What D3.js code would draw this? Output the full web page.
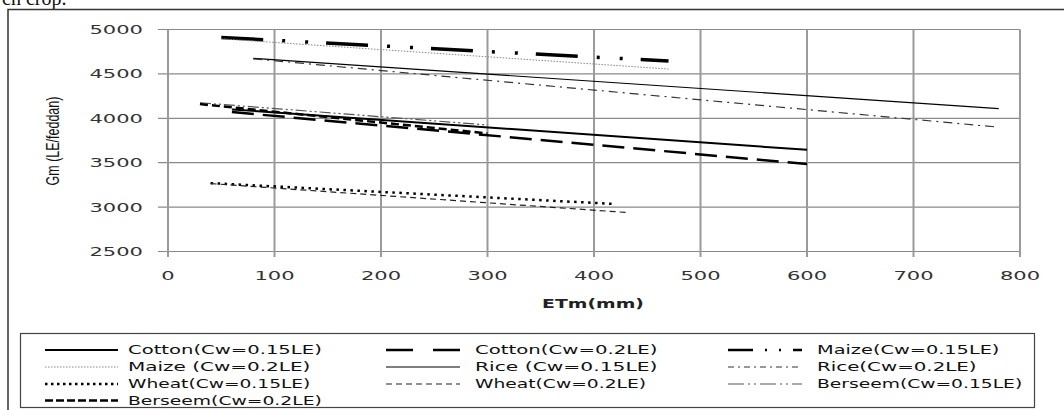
<!DOCTYPE html>
<html>
<head>
<meta charset="utf-8">
<style>
  body { margin: 0; background: #fff; }
  svg { display: block; }
</style>
</head>
<body>
<script src="https://cdn.jsdelivr.net/npm/d3@7"></script>
<script>
// ETm (mm) and Gm (LE/feddan), start and end of each line
var etmCotton15 = [60, 600],   gmCotton15 = [4100, 3645];
var etmCotton20 = [60, 600],   gmCotton20 = [4070, 3485];
var etmMaize15 = [50, 470],    gmMaize15 = [4910, 4645];
var etmMaize20 = [50, 470],    gmMaize20 = [4895, 4555];
var etmRice15 = [80, 780],     gmRice15 = [4675, 4110];
var etmRice20 = [80, 780],     gmRice20 = [4670, 3900];
var etmWheat15 = [40, 420],    gmWheat15 = [3270, 3035];
var etmWheat20 = [40, 430],    gmWheat20 = [3265, 2940];
var etmBerseem15 = [30, 300],  gmBerseem15 = [4175, 3925];
var etmBerseem20 = [30, 300],  gmBerseem20 = [4160, 3830];

var names = ["Cotton(Cw=0.15LE)", "Cotton(Cw=0.2LE)", "Maize(Cw=0.15LE)",
             "Maize (Cw=0.2LE)", "Rice (Cw=0.15LE)", "Rice(Cw=0.2LE)",
             "Wheat(Cw=0.15LE)", "Wheat(Cw=0.2LE)", "Berseem(Cw=0.15LE)",
             "Berseem(Cw=0.2LE)"];
var xTicks = [0, 100, 200, 300, 400, 500, 600, 700, 800];
var yTicks = [2500, 3000, 3500, 4000, 4500, 5000];

var etms = [etmCotton15, etmCotton20, etmMaize15, etmMaize20, etmRice15,
            etmRice20, etmWheat15, etmWheat20, etmBerseem15, etmBerseem20];
var gms = [gmCotton15, gmCotton20, gmMaize15, gmMaize20, gmRice15,
           gmRice20, gmWheat15, gmWheat20, gmBerseem15, gmBerseem20];

// line looks, same order as names
var styles = [
  { color: "#000", width: 2,   dash: null,                 legDash: null },
  { color: "#000", width: 2.5, dash: "22,9",               legDash: "27,20" },
  { color: "#000", width: 3.5, dash: "42,19,3,20,3,18",    legDash: "25,12,2,12,2,12" },
  { color: "#888", width: 1,   dash: "1.5,1.5",            legDash: "1.5,1.5" },
  { color: "#000", width: 1.2, dash: null,                 legDash: null },
  { color: "#333", width: 1.2, dash: "9,5,2,5",            legDash: "6,4,2,4" },
  { color: "#000", width: 2.5, dash: "2.5,4.5",            legDash: "2.5,3.5" },
  { color: "#222", width: 1.2, dash: "6,4",                legDash: "6,4" },
  { color: "#555", width: 1.2, dash: "11,3,2,3,2,3",       legDash: "16,4,2,4,2,4" },
  { color: "#000", width: 2.5, dash: "8,4",                legDash: "8,3" }
];

var W = 1064, H = 410;
var svg = d3.select("body").append("svg").attr("width", W).attr("height", H);

var x = d3.scaleLinear().domain([0, 800]).range([168, 1020]);
var y = d3.scaleLinear().domain([2500, 5000]).range([251.5, 29.5]);

function stretched(parent, px, py, txt, sx) {
  return parent.append("text")
    .attr("transform", "translate(" + px + "," + py + ") scale(" + sx + ",1)")
    .text(txt);
}

// bit of the page text above the chart
svg.append("text").attr("x", 2).attr("y", 5)
  .style("font", "20px 'Liberation Serif'").attr("fill", "#111").text("ch crop.");

// chart frame
svg.append("rect").attr("x", 8).attr("y", 9.5).attr("width", 1070).attr("height", 420)
  .attr("fill", "none").attr("stroke", "#333").attr("stroke-width", 1.5);

// grid
svg.append("g").selectAll("line").data(yTicks).enter().append("line")
  .attr("x1", 158).attr("x2", x(800))
  .attr("y1", function (d) { return y(d); }).attr("y2", function (d) { return y(d); })
  .attr("stroke", "#8a8a8a").attr("stroke-width", 1.2);
svg.append("g").selectAll("line").data(xTicks).enter().append("line")
  .attr("x1", function (d) { return x(d); }).attr("x2", function (d) { return x(d); })
  .attr("y1", y(5000)).attr("y2", 257)
  .attr("stroke", "#9a9a9a").attr("stroke-width", 2);

// axes labels
var sx = 1.62;
var yl = svg.append("g").style("font", "13px 'DejaVu Sans'").attr("fill", "#333")
  .attr("text-anchor", "end");
yTicks.forEach(function (t) { stretched(yl, 143, y(t) + 4.5, t, sx); });
var xl = svg.append("g").style("font", "13px 'DejaVu Sans'").attr("fill", "#333")
  .attr("text-anchor", "middle");
xTicks.forEach(function (t) { stretched(xl, x(t), 280, t, sx); });

stretched(svg, 593, 308, "ETm(mm)", 1.45)
  .attr("text-anchor", "middle").attr("fill", "#222")
  .style("font", "bold 13px 'DejaVu Sans'");

svg.append("text")
  .attr("transform", "translate(53,141) rotate(-90) scale(1,1.45)")
  .attr("text-anchor", "middle").attr("dy", "0.35em")
  .style("font", "12.5px 'Liberation Sans'").attr("fill", "#111")
  .text("Gm (LE/feddan)");

// series
var line = d3.line().x(function (d) { return x(d[0]); }).y(function (d) { return y(d[1]); });
var series = names.map(function (n, i) {
  return { name: n, pts: d3.zip(etms[i], gms[i]), st: styles[i] };
});
svg.append("g").selectAll("path").data(series).enter().append("path")
  .attr("d", function (d) { return line(d.pts); })
  .attr("fill", "none")
  .attr("stroke", function (d) { return d.st.color; })
  .attr("stroke-width", function (d) { return d.st.width; })
  .attr("stroke-dasharray", function (d) { return d.st.dash; });

// legend
svg.append("rect").attr("x", 20.5).attr("y", 333.5).attr("width", 1014).attr("height", 74)
  .attr("fill", "#fff").attr("stroke", "#444").attr("stroke-width", 1.2);
var cols = [{ a: 45, b: 118, t: 128 }, { a: 386, b: 460, t: 475 }, { a: 728, b: 802, t: 817 }];
var rows = [350, 367, 384, 400.5];
var lg = svg.append("g").style("font", "12px 'DejaVu Sans'").attr("fill", "#111");
series.forEach(function (s, i) {
  var c = cols[i % 3], r = rows[Math.floor(i / 3)];
  lg.append("line").attr("x1", c.a).attr("x2", c.b).attr("y1", r).attr("y2", r)
    .attr("stroke", s.st.color).attr("stroke-width", Math.min(s.st.width, 2.5))
    .attr("stroke-dasharray", s.st.legDash);
  lg.append("text").attr("x", c.t).attr("y", r + 4.3)
    .attr("textLength", s.name.length * 11.4).attr("lengthAdjust", "spacingAndGlyphs")
    .text(s.name);
});
</script>
</body>
</html>
